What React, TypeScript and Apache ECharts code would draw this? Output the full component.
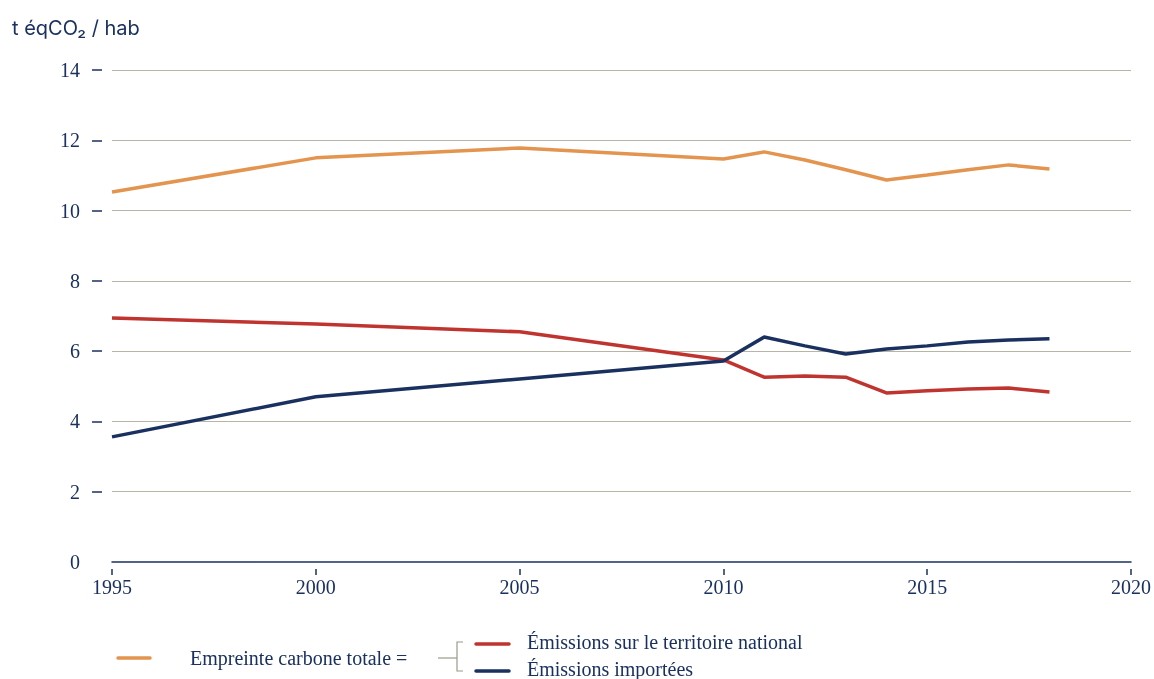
import React, { useEffect, useRef } from "react";
import * as echarts from "echarts";

const years = [1995, 2000, 2005, 2010, 2011, 2012, 2013, 2014, 2015, 2016, 2017, 2018];
const empreinte = [10.53, 11.5, 11.78, 11.47, 11.67, 11.44, 11.16, 10.87, 11.01, 11.16, 11.3, 11.18];
const territoire = [6.94, 6.77, 6.55, 5.75, 5.26, 5.29, 5.26, 4.81, 4.87, 4.92, 4.95, 4.84];
const importees = [3.56, 4.7, 5.21, 5.72, 6.4, 6.15, 5.92, 6.06, 6.15, 6.26, 6.32, 6.35];
const yTickValues = [2, 4, 6, 8, 10, 12, 14];

const ORANGE = "#e3944f";
const RED = "#c0342f";
const NAVY = "#1a3160";
const GRID = "#b9b5a5";
const SERIF = "'Liberation Serif', 'DejaVu Serif', serif";

export default function App() {
  const ref = useRef<HTMLDivElement>(null);
  useEffect(() => {
    if (!ref.current) return;
    const chart = echarts.init(ref.current, undefined, { renderer: "svg" });
    const pair = (vals: number[]) => years.map((y, i) => [y, vals[i]]);
    chart.setOption({
      animation: false,
      grid: { left: 112, right: 18, top: 70, bottom: 117, containLabel: false },
      xAxis: [
        {
          type: "value",
          min: 1995,
          max: 2020,
          interval: 5,
          axisLine: { show: true, lineStyle: { color: NAVY, width: 1.5 } },
          axisTick: { show: false },
          axisLabel: { show: false },
          splitLine: { show: false },
        },
        {
          type: "value",
          position: "bottom",
          offset: 7,
          min: 1995,
          max: 2020,
          interval: 5,
          axisLine: { show: false },
          axisTick: { show: true, length: 6, lineStyle: { color: NAVY, width: 1.5 } },
          axisLabel: {
            show: true,
            color: NAVY,
            fontFamily: SERIF,
            fontSize: 20,
            margin: 8,
            formatter: (v: number) => String(v),
          },
          splitLine: { show: false },
        },
      ],
      yAxis: {
        type: "value",
        min: 0,
        max: 14,
        interval: 2,
        offset: 10,
        axisLine: { show: false },
        axisTick: {
          show: true,
          length: 10,
          customValues: yTickValues,
          lineStyle: { color: NAVY, width: 1.5 },
        },
        axisLabel: { color: NAVY, fontFamily: SERIF, fontSize: 20, margin: 22 },
        splitLine: { show: true, lineStyle: { color: GRID, width: 1.2 } },
      },
      series: [
        {
          type: "line",
          name: "Empreinte carbone totale",
          data: pair(empreinte),
          showSymbol: false,
          lineStyle: { color: ORANGE, width: 3.5 },
          itemStyle: { color: ORANGE },
          z: 3,
        },
        {
          type: "line",
          name: "Émissions sur le territoire national",
          data: pair(territoire),
          showSymbol: false,
          lineStyle: { color: RED, width: 3.5 },
          itemStyle: { color: RED },
          z: 3,
        },
        {
          type: "line",
          name: "Émissions importées",
          data: pair(importees),
          showSymbol: false,
          lineStyle: { color: NAVY, width: 3.5 },
          itemStyle: { color: NAVY },
          z: 4,
        },
      ],
      graphic: [
        {
          type: "text",
          x: 12,
          y: 28,
          style: {
            text: "t éqCO₂ / hab",
            fill: NAVY,
            font: "20px Inter, 'Noto Sans', sans-serif",
            verticalAlign: "middle",
          },
        },
        {
          type: "line",
          shape: { x1: 118, y1: 658, x2: 150, y2: 658 },
          style: { stroke: ORANGE, lineWidth: 3.5, lineCap: "round" },
        },
        {
          type: "text",
          x: 190,
          y: 658,
          style: {
            text: "Empreinte carbone totale =",
            fill: NAVY,
            font: "20px " + SERIF,
            verticalAlign: "middle",
          },
        },
        {
          type: "polyline",
          shape: { points: [[438, 658], [457, 658]] },
          style: { stroke: "#9b9a88", lineWidth: 1.2, fill: null },
        },
        {
          type: "polyline",
          shape: { points: [[463, 642], [457, 642], [457, 671], [463, 671]] },
          style: { stroke: "#9b9a88", lineWidth: 1.2, fill: null },
        },
        {
          type: "line",
          shape: { x1: 476, y1: 644, x2: 509, y2: 644 },
          style: { stroke: RED, lineWidth: 3.5, lineCap: "round" },
        },
        {
          type: "text",
          x: 527,
          y: 642,
          style: {
            text: "Émissions sur le territoire national",
            fill: NAVY,
            font: "20px " + SERIF,
            verticalAlign: "middle",
          },
        },
        {
          type: "line",
          shape: { x1: 476, y1: 671, x2: 509, y2: 671 },
          style: { stroke: NAVY, lineWidth: 3.5, lineCap: "round" },
        },
        {
          type: "text",
          x: 527,
          y: 669,
          style: {
            text: "Émissions importées",
            fill: NAVY,
            font: "20px " + SERIF,
            verticalAlign: "middle",
          },
        },
      ],
    });
    return () => chart.dispose();
  }, []);
  return (
    <div
      ref={ref}
      style={{ position: "fixed", left: 0, top: 0, width: 1154, height: 679 }}
    />
  );
}
